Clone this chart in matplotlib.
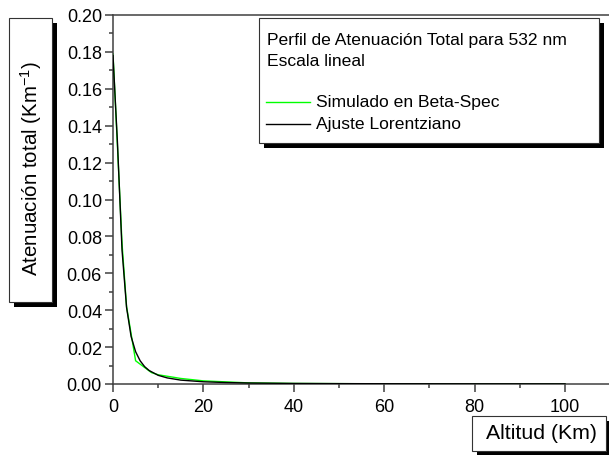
import matplotlib
matplotlib.use('Agg')
import matplotlib.pyplot as plt
from matplotlib.patches import Rectangle
from matplotlib.ticker import MultipleLocator, FormatStrFormatter

plt.rcParams['font.family'] = ['Liberation Sans', 'DejaVu Sans']
plt.rcParams['mathtext.fontset'] = 'custom'
plt.rcParams['mathtext.rm'] = 'Liberation Sans'
plt.rcParams['mathtext.it'] = 'Liberation Sans'

# perfil simulado (Beta-Spec)
alt_sim = [0, 1, 2, 3, 5, 8.5, 10, 15, 20, 30, 40, 60, 80, 100]
aten_sim = [0.179, 0.128, 0.076, 0.042, 0.0126, 0.0062, 0.0050, 0.0030,
            0.0017, 0.0006, 0.0003, 0.0001, 0.00005, 0.00002]

# ajuste lorentziano
alt_fit = [0, 1, 2, 3, 4, 5, 6, 7, 8, 10, 12, 15, 20, 25, 30, 40, 50, 60, 80, 100]
aten_fit = [0.178, 0.130, 0.0725, 0.0415, 0.0258, 0.0175, 0.0126, 0.0094,
            0.0073, 0.0047, 0.0033, 0.0021, 0.0012, 0.0008, 0.00054,
            0.0003, 0.0002, 0.00014, 0.00008, 0.00005]

W, H = 609, 456
fig = plt.figure(figsize=(W / 100, H / 100), dpi=100)
fig.patch.set_facecolor('white')


def fx(x):
    return x / W


def fy(y):
    return 1 - y / H


def caja(x0, y0, x1, y1, sombra=5):
    # caja con sombra negra estilo Origin (coordenadas en pixeles)
    fig.add_artist(Rectangle((fx(x0 + sombra), fy(y1 + sombra)),
                             (x1 - x0) / W, (y1 - y0) / H,
                             transform=fig.transFigure, facecolor='black',
                             edgecolor='none', zorder=5))
    fig.add_artist(Rectangle((fx(x0), fy(y1)), (x1 - x0) / W, (y1 - y0) / H,
                             transform=fig.transFigure, facecolor='white',
                             edgecolor='#333333', linewidth=0.8, zorder=6))


ax = fig.add_axes([fx(113), fy(385), 110 * 4.52 / W, 369 / H])
ax.plot(alt_sim, aten_sim, color='#00ff00', lw=1.0, zorder=2)
ax.plot(alt_fit, aten_fit, color='black', lw=1.0, zorder=3)

ax.set_xlim(0, 110)
ax.set_ylim(0, 0.20)
ax.xaxis.set_major_locator(MultipleLocator(20))
ax.xaxis.set_minor_locator(MultipleLocator(10))
ax.yaxis.set_major_locator(MultipleLocator(0.02))
ax.yaxis.set_minor_locator(MultipleLocator(0.01))
ax.yaxis.set_major_formatter(FormatStrFormatter('%.2f'))

ax.tick_params(which='both', direction='out', color='#404040', width=1.1,
               top=False, right=False)
ax.tick_params(which='major', length=6, labelsize=13)
ax.tick_params(which='minor', length=3)
ax.tick_params(axis='x', pad=4)
ax.tick_params(axis='y', pad=2)
for s in ['left', 'bottom', 'top']:
    ax.spines[s].set_color('#404040')
    ax.spines[s].set_linewidth(1.1)
ax.spines['right'].set_visible(False)

# etiqueta del eje y
caja(9, 19, 52, 303)
fig.text(fx(31), fy(169), 'Atenuación total (Km$^{-1}$)', rotation=90,
         ha='center', va='center', fontsize=14.8, zorder=7)

# etiqueta del eje x
caja(472, 417, 606, 452)
fig.text(fx(541), fy(434), 'Altitud (Km)', ha='center', va='center',
         fontsize=15.3, zorder=7)

# leyenda
caja(259, 19, 599, 144)
fig.text(fx(267), fy(40), 'Perfil de Atenuación Total para 532 nm',
         ha='left', va='center', fontsize=12.6, zorder=7)
fig.text(fx(267), fy(62), 'Escala lineal', ha='left', va='center',
         fontsize=12.6, zorder=7)
entradas = [('Simulado en Beta-Spec', '#00ff00', 103),
            ('Ajuste Lorentziano', 'black', 125)]
for texto, color, y in entradas:
    fig.add_artist(plt.Line2D([fx(266), fx(310)], [fy(y), fy(y)],
                              transform=fig.transFigure, color=color,
                              lw=1.0, zorder=7))
    fig.text(fx(316), fy(y), texto, ha='left', va='center', fontsize=12.6,
             zorder=7)

fig.savefig('out.png', dpi=100)
